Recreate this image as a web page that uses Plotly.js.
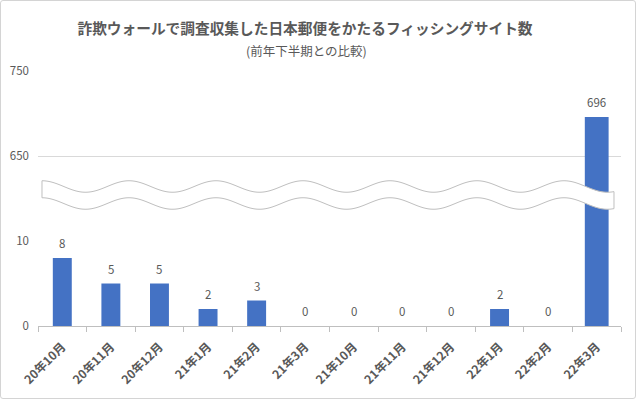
<!DOCTYPE html>
<html>
<head>
<meta charset="utf-8">
<script src="https://cdn.plot.ly/plotly-3.0.1.min.js"></script>
<style>
  html, body { margin: 0; padding: 0; background: #ffffff; }
  #wrap { position: relative; width: 636px; height: 399px; }
  #chart { width: 636px; height: 399px; }
  #frame { position: absolute; left: 0; top: 0; width: 634px; height: 397px;
           border: 1px solid #d4d4d4; border-radius: 3px; pointer-events: none; }
</style>
</head>
<body>
<div id="wrap"><div id="chart"></div><div id="frame"></div></div>
<script>
// ---- data ----
const categories = ['20年10月','20年11月','20年12月','21年1月','21年2月','21年3月',
                    '21年10月','21年11月','21年12月','22年1月','22年2月','22年3月'];
const values = [8, 5, 5, 2, 3, 0, 0, 0, 0, 2, 0, 696];
const lowerTicks = [0, 10];
const upperTicks = [650, 750];
const titleText = '詐欺ウォールで調査収集した日本郵便をかたるフィッシングサイト数';
const subtitleText = '(前年下半期との比較)';

// ---- layout helpers ----
const W = 636, H = 399;
const M = {l: 38, r: 15, t: 71, b: 73};
const PW = W - M.l - M.r, PH = H - M.t - M.b;
const lowerRange = [0, 10];
const upperRange = [550, 750];
const blue = '#4472C4';
const txt = '#595959';
const font = 'Noto Sans CJK JP, sans-serif';

const widths = values.map(v => v > lowerRange[1] ? 0.49 : 0.39);

const traceLow = {
  type: 'bar', x: categories, y: values, xaxis: 'x', yaxis: 'y',
  marker: {color: blue}, width: widths, hoverinfo: 'skip', showlegend: false
};
const traceHigh = {
  type: 'bar', x: categories, y: values, xaxis: 'x', yaxis: 'y2',
  marker: {color: blue}, width: widths, hoverinfo: 'skip', showlegend: false
};

// value labels
const annotations = values.map((v, i) => ({
  x: categories[i], y: v, xref: 'x',
  yref: v > lowerRange[1] ? 'y2' : 'y',
  text: String(v), showarrow: false, yanchor: 'bottom', yshift: 5,
  font: {family: font, size: 11.5, color: txt}
}));
annotations.push({
  xref: 'paper', yref: 'paper', x: (306 - M.l) / PW, y: (H - M.b - 50) / PH,
  xanchor: 'center', yanchor: 'middle', showarrow: false, text: subtitleText,
  font: {family: font, size: 12.5, color: txt}
});

// wavy break band (decoration)
function px(x) { return ((x - M.l) / PW).toFixed(5); }
function py(y) { return ((H - M.b - y) / PH).toFixed(5); }
const x0 = 42, x1 = 614, period = 87, mid = 186.5, amp = 5.75, band = 17;
const pts = [];
for (let x = x0; x <= x1 + 0.001; x += 2) pts.push(x);
if (pts[pts.length - 1] < x1) pts.push(x1);
const yTop = x => mid - amp * Math.cos(2 * Math.PI * (x - x0) / period);
let path = 'M ' + px(pts[0]) + ',' + py(yTop(pts[0]));
for (let k = 1; k < pts.length; k++) path += ' L ' + px(pts[k]) + ',' + py(yTop(pts[k]));
for (let k = pts.length - 1; k >= 0; k--) path += ' L ' + px(pts[k]) + ',' + py(yTop(pts[k]) + band);
path += ' Z';

const layout = {
  width: W, height: H,
  margin: {l: M.l, r: M.r, t: M.t, b: M.b},
  paper_bgcolor: '#ffffff', plot_bgcolor: '#ffffff',
  font: {family: font, color: txt},
  title: {
    text: titleText, xref: 'container', yref: 'container',
    x: 305 / W, xanchor: 'center', y: 1 - 29 / H, yanchor: 'middle',
    font: {family: font, size: 14.7, color: txt, weight: 'bold'}
  },
  bargap: 0.6,
  xaxis: {
    type: 'category', domain: [0, 1], anchor: 'y',
    showline: true, linecolor: '#bfbfbf', linewidth: 1,
    ticks: 'outside', tickson: 'boundaries', ticklen: 5, tickcolor: '#bfbfbf',
    tickangle: -45, showgrid: false, zeroline: false, ticklabelstandoff: 8,
    tickfont: {family: font, size: 12, color: txt, weight: 'bold'}
  },
  yaxis: {
    domain: [0, 1/3], range: lowerRange, tickvals: lowerTicks,
    showgrid: true, gridcolor: '#d9d9d9', zeroline: false, showline: false,
    ticks: '', ticklabelstandoff: 8,
    tickfont: {family: font, size: 11.5, color: txt}
  },
  yaxis2: {
    domain: [1/3, 1], range: upperRange, tickvals: upperTicks, anchor: 'x',
    showgrid: true, gridcolor: '#d9d9d9', zeroline: false, showline: false,
    ticks: '', ticklabelstandoff: 8,
    tickfont: {family: font, size: 11.5, color: txt}
  },
  annotations: annotations,
  shapes: [{
    type: 'path', xref: 'paper', yref: 'paper', path: path, layer: 'above',
    fillcolor: '#ffffff', line: {color: '#bfbfbf', width: 1}
  }]
};

Plotly.newPlot('chart', [traceLow, traceHigh], layout, {displayModeBar: false, staticPlot: true});
</script>
</body>
</html>
